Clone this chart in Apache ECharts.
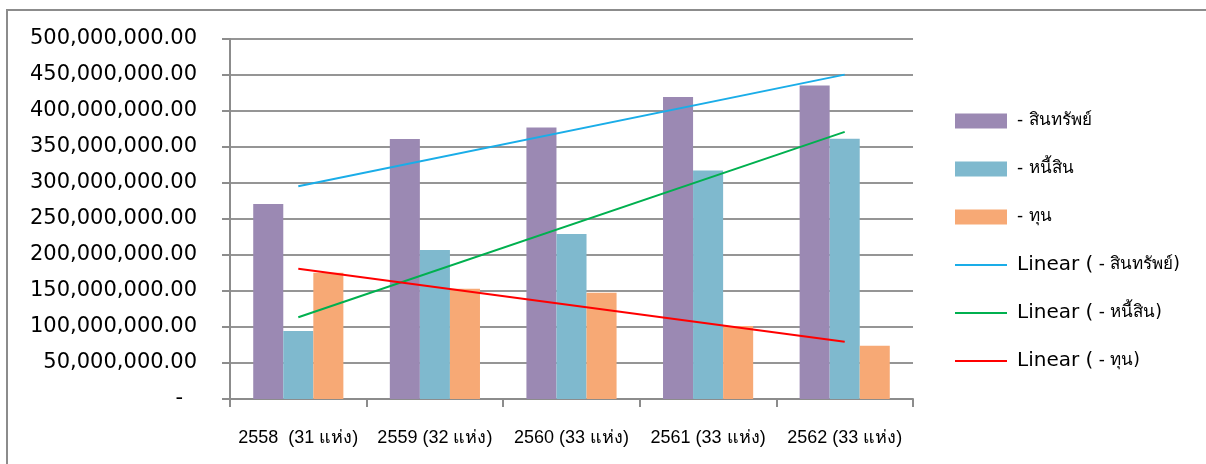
<!DOCTYPE html>
<html>
<head>
<meta charset="utf-8">
<script src="https://cdn.jsdelivr.net/npm/echarts@6/dist/echarts.min.js"></script>
<style>
    html, body { margin: 0; padding: 0; background: #fff; }
    #chart { width: 1206px; height: 464px; }
</style>
</head>
<body>
<div id="chart"></div>
<script>
// categories (years, number of units)
var years = ['2558  (31 แห่ง)', '2559 (32 แห่ง)', '2560 (33 แห่ง)', '2561 (33 แห่ง)', '2562 (33 แห่ง)'];

// bar values
var assets = [271000000, 361000000, 377000000, 419500000, 435500000];
var liabilities = [94500000, 207000000, 229000000, 317500000, 361500000];
var equity = [175500000, 153000000, 147500000, 101500000, 74000000];

// linear trend lines: value at first and last category
var trendAssets = [295500000, null, null, null, 450500000];
var trendLiabilities = [113500000, null, null, null, 371000000];
var trendEquity = [181000000, null, null, null, 79500000];

var yTicks = { min: 0, max: 500000000, step: 50000000 };

var names = ['- สินทรัพย์', '- หนี้สิน', '- ทุน'];
var colors = ['#9B89B3', '#7FB9CE', '#F7A975'];
var lineColors = ['#1AADE8', '#00B04F', '#FF0000'];

var chart = echarts.init(document.getElementById('chart'));

function fmtMoney(v) {
    if (v === 0) {
        return '{z|-}';
    }
    return v.toLocaleString('en-US', {minimumFractionDigits: 2, maximumFractionDigits: 2});
}

function barSeries(i, data) {
    return {
        name: names[i],
        type: 'bar',
        data: data,
        barGap: '0%',
        barCategoryGap: '34%',
        itemStyle: {color: colors[i]},
        z: 2
    };
}

function trendSeries(i, data) {
    return {
        name: 'Linear ( ' + names[i] + ')',
        type: 'line',
        data: data,
        connectNulls: true,
        symbol: 'none',
        showSymbol: false,
        lineStyle: {color: lineColors[i], width: 2},
        itemStyle: {color: lineColors[i]},
        z: 5
    };
}

// thin horizontal stroke used as legend icon for the trend lines
var lineIcon = 'path://M0,0 L52,0 L52,2 L0,2 Z';

chart.setOption({
    animation: false,
    graphic: [{
        type: 'rect',
        shape: {x: 7, y: 10, width: 1300, height: 500},
        style: {fill: 'none', stroke: '#8c8c8c', lineWidth: 2}
    }],
    grid: {left: 230, right: 293, top: 39, bottom: 65},
    legend: {
        orient: 'vertical',
        left: 955,
        top: 111,
        padding: 0,
        itemWidth: 52,
        itemHeight: 15,
        itemGap: 28,
        data: [
            {name: names[0], icon: 'rect'},
            {name: names[1], icon: 'rect'},
            {name: names[2], icon: 'rect'},
            {name: 'Linear ( ' + names[0] + ')', icon: lineIcon},
            {name: 'Linear ( ' + names[1] + ')', icon: lineIcon},
            {name: 'Linear ( ' + names[2] + ')', icon: lineIcon}
        ],
        formatter: function (name) {
            if (name.indexOf('Linear') === 0) {
                return '{big|Linear (}{small| ' + name.slice(9) + '}';
            }
            return '{small|' + name + '}';
        },
        textStyle: {
            color: '#000',
            padding: [0, 0, 0, 5],
            rich: {
                big: {fontFamily: 'DejaVu Sans', fontSize: 20, height: 20, lineHeight: 20, color: '#000'},
                small: {fontFamily: 'DejaVu Sans', fontSize: 17, height: 20, lineHeight: 20, color: '#000'}
            }
        }
    },
    xAxis: {
        type: 'category',
        data: years,
        axisLine: {lineStyle: {color: '#8c8c8c', width: 2}},
        axisTick: {show: true, length: 8, interval: 0, lineStyle: {color: '#8c8c8c', width: 2}},
        axisLabel: {
            interval: 0,
            margin: 30,
            color: '#000',
            fontFamily: 'Liberation Sans Narrow, Liberation Sans, sans-serif',
            fontSize: 18
        }
    },
    yAxis: {
        type: 'value',
        min: yTicks.min,
        max: yTicks.max,
        interval: yTicks.step,
        axisLine: {show: true, lineStyle: {color: '#8c8c8c', width: 2}},
        axisTick: {show: true, length: 8, lineStyle: {color: '#8c8c8c', width: 2}},
        splitLine: {lineStyle: {color: '#959595', width: 2}},
        axisLabel: {
            margin: 33,
            color: '#000',
            fontFamily: 'DejaVu Sans',
            fontSize: 21,
            formatter: fmtMoney,
            rich: {
                z: {fontFamily: 'DejaVu Sans', fontSize: 21, color: '#000', padding: [0, 14, 0, 0]}
            }
        }
    },
    series: [
        barSeries(0, assets),
        barSeries(1, liabilities),
        barSeries(2, equity),
        trendSeries(0, trendAssets),
        trendSeries(1, trendLiabilities),
        trendSeries(2, trendEquity)
    ]
});
</script>
</body>
</html>
